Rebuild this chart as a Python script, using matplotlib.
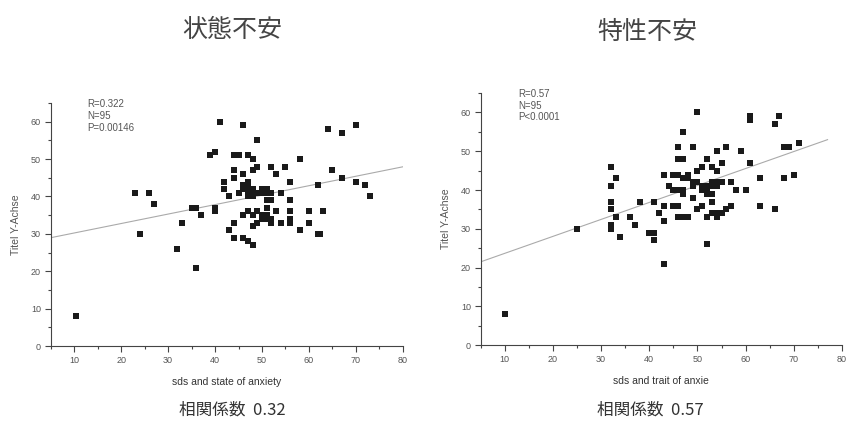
import matplotlib
matplotlib.use("Agg")
import matplotlib.pyplot as plt
from matplotlib.ticker import MultipleLocator

# state anxiety (left panel)
state_x = [10.5, 23, 24, 26, 27, 32, 33, 35, 36, 36, 37, 39, 40, 40, 40, 41, 42, 42, 43, 43,
           44, 45, 44, 44, 44, 44, 46, 46, 45, 46, 47, 47, 48, 46, 47, 47, 48, 47, 48, 49,
           48, 46, 47, 48, 49, 46, 47, 48, 48, 49, 48, 49, 49, 50, 51, 50, 51, 51, 51, 50,
           52, 52, 52, 51, 52, 52, 53, 53, 54, 54, 55, 56, 56, 56, 56, 56, 58, 58, 60, 60,
           62, 62, 62.3, 63, 64, 65, 67, 67, 70, 70, 72, 73, 50, 51, 47]
state_y = [8, 41, 30, 41, 38, 26, 33, 37, 37, 21, 35, 51, 52, 37, 36, 60, 44, 42, 40, 31,
           51, 51, 47, 45, 33, 29, 59, 46, 41, 43, 44, 51, 50, 42, 42, 41, 41, 40, 40, 41,
           42, 35, 36, 35, 36, 29, 28, 27, 32, 33, 47, 48, 55, 42, 42, 41, 37, 35, 34, 34,
           48, 41, 39, 39, 34, 33, 46, 36, 41, 33, 48, 44, 39, 36, 34, 33, 50, 31, 36, 33,
           43, 30, 30, 36, 58, 47, 57, 45, 59, 44, 43, 40, 35, 41, 43]

# trait anxiety (right panel)
trait_x = [10, 25, 32, 32, 32, 32, 32, 32, 33, 33, 34, 36, 37, 38, 40, 41, 41, 41, 42, 43,
           43, 43, 43, 44, 45, 45, 46, 46, 46, 47, 46, 46, 46, 47, 48, 47, 47, 47, 48, 48,
           49, 49, 50, 50, 50, 51, 50, 51, 51, 52, 53, 54, 51, 52, 52, 53, 52, 52, 53, 53,
           54, 54, 54, 53, 54, 55, 54, 53, 55, 56, 56, 57, 57, 58, 59, 60, 61, 61, 61, 63,
           63, 66, 66, 67, 68, 69, 68, 70, 71, 49, 47, 55, 49, 52, 45]
trait_y = [8, 30, 46, 41, 37, 35, 31, 30, 43, 33, 28, 33, 31, 37, 29, 29, 37, 27, 34, 44,
           36, 32, 21, 41, 40, 36, 36, 51, 48, 48, 44, 40, 33, 33, 33, 55, 43, 39, 44, 43,
           51, 42, 42, 60, 45, 46, 35, 36, 41, 41, 41, 41, 40, 48, 39, 39, 33, 26, 46, 37,
           45, 50, 42, 42, 34, 34, 33, 34, 47, 51, 35, 36, 42, 40, 50, 40, 59, 58, 47, 43,
           36, 57, 35, 59, 51, 51, 43, 44, 52, 38, 40, 42, 41, 40, 44]

# linear fits as drawn in the original (intercept, slope, x range)
state_fit = (27.7, 0.253, 5, 80)
trait_fit = (19.3, 0.4375, 5, 77)

titles = ["状態不安", "特性不安"]
xlabels = ["sds and state of anxiety", "sds and trait of anxie"]
stats = ["R=0.322\nN=95\nP=0.00146", "R=0.57\nN=95\nP<0.0001"]
captions = ["相関係数  0.32", "相関係数  0.57"]

cjk = ["Noto Sans CJK JP", "DejaVu Sans"]
latin = ["Liberation Sans", "DejaVu Sans"]
grey = "#555555"

fig = plt.figure(figsize=(8.5, 4.23), dpi=100)
ax1 = fig.add_axes([0.0596, 0.182, 0.4144, 0.5745])
ax2 = fig.add_axes([0.5655, 0.184, 0.4251, 0.596])

panels = [(ax1, state_x, state_y, state_fit), (ax2, trait_x, trait_y, trait_fit)]
for i, (ax, xs, ys, fit) in enumerate(panels):
    b, m, x0, x1 = fit
    ax.plot([x0, x1], [b + m * x0, b + m * x1], color="#aaaaaa", lw=0.8, zorder=1)
    ax.scatter(xs, ys, marker="s", s=14, color="#1a1a1a", linewidths=0, zorder=2)
    ax.set_xlim(5, 80)
    ax.set_ylim(0, 65)
    ax.xaxis.set_major_locator(MultipleLocator(10))
    ax.xaxis.set_minor_locator(MultipleLocator(5))
    ax.yaxis.set_major_locator(MultipleLocator(10))
    ax.yaxis.set_minor_locator(MultipleLocator(5))
    ax.set_xticks(range(10, 81, 10))
    for s in ["top", "right"]:
        ax.spines[s].set_visible(False)
    for s in ["left", "bottom"]:
        ax.spines[s].set_color("#444444")
        ax.spines[s].set_linewidth(0.8)
    ax.tick_params(which="major", length=4, width=0.8, color="#444444",
                   labelsize=6.5, labelcolor=grey, pad=3)
    ax.tick_params(which="minor", length=2.5, width=0.8, color="#444444")
    for lab in ax.get_xticklabels() + ax.get_yticklabels():
        lab.set_family(latin)
    ax.set_xlabel(xlabels[i], family=latin, fontsize=7.5, color="#333333", labelpad=9)
    ax.set_ylabel("Titel Y-Achse", family=latin, fontsize=7.5, color=grey, labelpad=7)
    ax.text(0.105, 1.015, stats[i], transform=ax.transAxes, va="top", ha="left",
            family=latin, fontsize=7, color=grey, linespacing=1.2)

fig.text(0.273, 0.93, titles[0], family=cjk, fontsize=18, color="#444444",
         ha="center", va="center")
fig.text(0.762, 0.925, titles[1], family=cjk, fontsize=18, color="#444444",
         ha="center", va="center")
fig.text(0.273, 0.03, captions[0], family=cjk, fontsize=12, color="#333333",
         ha="center", va="center")
fig.text(0.765, 0.03, captions[1], family=cjk, fontsize=12, color="#333333",
         ha="center", va="center")

fig.savefig("out.png", dpi=100, facecolor="white")
